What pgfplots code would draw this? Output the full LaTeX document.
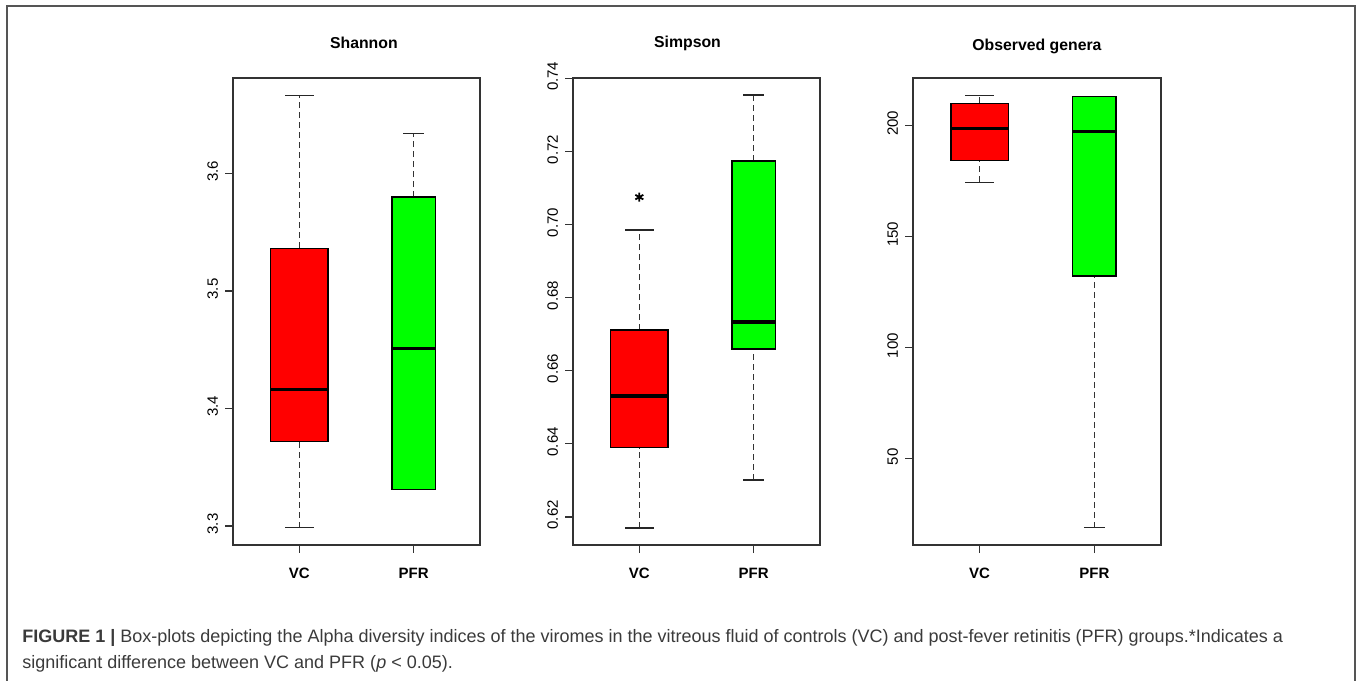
\documentclass[border=0pt]{standalone}
\usepackage{fontspec}
\setmainfont{Liberation Sans}
\usepackage{pgfplots}
\pgfplotsset{compat=1.18}
\definecolor{rred}{HTML}{FF0000}
\definecolor{rgreen}{HTML}{00FF00}
\definecolor{axgray}{HTML}{333333}
\definecolor{framegray}{HTML}{555555}
\definecolor{capgray}{HTML}{3A3A3A}

\pgfplotsset{
  rbox/.style={
    scale only axis, width=123.5pt, height=233.5pt,
    anchor=south west,
    xmin=0.42, xmax=2.58,
    xtick={1,2}, xticklabels={VC,PFR},
    axis line style={axgray, line width=0.65pt},
    tick style={axgray, line width=0.65pt},
    tick align=outside, major tick length=4pt,
    xtick pos=bottom, ytick pos=left,
    ticklabel style={font=\fontsize{7.5}{9}\selectfont, text=black},
    xticklabel style={font=\fontsize{7.5}{9}\selectfont\bfseries, yshift=-4pt},
    yticklabel style={rotate=90, anchor=south, xshift=1pt},
    title style={font=\fontsize{7.9}{9}\selectfont\bfseries, at={(0.5,1)}, anchor=center, yshift=11.5pt},
  },
  boxfill/.style={draw=black, line width=0.65pt},
  whisk/.style={black!80, line width=0.65pt, dash pattern=on 3pt off 2pt},
  capl/.style={black!85, line width=0.7pt},
  medl/.style={black, line width=1.7pt},
}

\begin{document}
\begin{tikzpicture}
\useasboundingbox (0,0) rectangle (678.5pt,340.5pt);
\draw[framegray, line width=0.8pt] (3.5pt,-1pt) -- (3.5pt,337.5pt) -- (677.5pt,337.5pt) -- (677.5pt,-1pt);

% ---------------- Shannon
\begin{axis}[rbox, at={(116.5pt,68pt)}, title={Shannon}, title style={xshift=3.7pt},
  ymin=3.2839, ymax=3.6813, ytick={3.3,3.4,3.5,3.6}, yticklabels={3.3,3.4,3.5,3.6}]
% VC: lw 3.2986, lq 3.3717, med 3.4163, uq 3.5365, uw 3.6666
\addplot[whisk] coordinates {(1,3.2986) (1,3.3717)};
\addplot[whisk] coordinates {(1,3.5365) (1,3.6666)};
\addplot[capl] coordinates {(0.875,3.2986) (1.125,3.2986)};
\addplot[capl] coordinates {(0.875,3.6666) (1.125,3.6666)};
\addplot[boxfill, fill=rred] coordinates {(0.75,3.3717) (1.25,3.3717) (1.25,3.5365) (0.75,3.5365)} -- cycle;
\addplot[medl] coordinates {(0.75,3.4163) (1.25,3.4163)};
% PFR: lw 3.3312, lq 3.3312, med 3.4512, uq 3.580, uw 3.634
\addplot[whisk] coordinates {(2,3.580) (2,3.634)};
\addplot[capl] coordinates {(1.9075,3.634) (2.0925,3.634)};
\addplot[boxfill, fill=rgreen] coordinates {(1.8115,3.3312) (2.1885,3.3312) (2.1885,3.580) (1.8115,3.580)} -- cycle;
\addplot[medl] coordinates {(1.8115,3.4512) (2.1885,3.4512)};
\end{axis}

% ---------------- Simpson
\begin{axis}[rbox, at={(286.5pt,68pt)}, title={Simpson}, title style={xshift=-4.5pt},
  ymin=0.6123, ymax=0.7401, ytick={0.62,0.64,0.66,0.68,0.70,0.72,0.74},
  yticklabels={0.62,0.64,0.66,0.68,0.70,0.72,0.74}]
% VC: lw 0.617, lq 0.6389, med 0.6531, uq 0.6711, uw 0.6985
\addplot[whisk] coordinates {(1,0.617) (1,0.6389)};
\addplot[whisk] coordinates {(1,0.6711) (1,0.6985)};
\addplot[capl] coordinates {(0.875,0.617) (1.125,0.617)};
\addplot[capl] coordinates {(0.875,0.6985) (1.125,0.6985)};
\addplot[boxfill, fill=rred] coordinates {(0.75,0.6389) (1.25,0.6389) (1.25,0.6711) (0.75,0.6711)} -- cycle;
\addplot[medl] coordinates {(0.75,0.6531) (1.25,0.6531)};
% outlier / significance mark
\addplot[only marks, mark=asterisk, mark size=2.3pt, mark options={line width=0.9pt, black}] coordinates {(1,0.7075)};
% PFR: lw 0.6301, lq 0.6659, med 0.6733, uq 0.7174, uw 0.7354
\addplot[whisk] coordinates {(2,0.6301) (2,0.6659)};
\addplot[whisk] coordinates {(2,0.7174) (2,0.7354)};
\addplot[capl] coordinates {(1.9075,0.6301) (2.0925,0.6301)};
\addplot[capl] coordinates {(1.9075,0.7354) (2.0925,0.7354)};
\addplot[boxfill, fill=rgreen] coordinates {(1.8115,0.6659) (2.1885,0.6659) (2.1885,0.7174) (1.8115,0.7174)} -- cycle;
\addplot[medl] coordinates {(1.8115,0.6733) (2.1885,0.6733)};
\end{axis}

% ---------------- Observed genera
\begin{axis}[rbox, at={(456.5pt,68pt)}, width=124pt, title={Observed genera}, title style={yshift=-1.8pt},
  ymin=11.2, ymax=221.3, ytick={50,100,150,200}, yticklabels={50,100,150,200}]
% VC: lw 174.4, lq 184.3, med 198.7, uq 209.9, uw 213.5
\addplot[whisk] coordinates {(1,174.4) (1,184.3)};
\addplot[whisk] coordinates {(1,209.9) (1,213.5)};
\addplot[capl] coordinates {(0.875,174.4) (1.125,174.4)};
\addplot[capl] coordinates {(0.875,213.5) (1.125,213.5)};
\addplot[boxfill, fill=rred] coordinates {(0.75,184.3) (1.25,184.3) (1.25,209.9) (0.75,209.9)} -- cycle;
\addplot[medl] coordinates {(0.75,198.7) (1.25,198.7)};
% PFR: lw 19, lq 132.2, med 197.3, uq 213, uw 213
\addplot[whisk] coordinates {(2,19) (2,132.2)};
\addplot[capl] coordinates {(1.9075,19) (2.0925,19)};
\addplot[boxfill, fill=rgreen] coordinates {(1.8115,132.2) (2.1885,132.2) (2.1885,213) (1.8115,213)} -- cycle;
\addplot[medl] coordinates {(1.8115,197.3) (2.1885,197.3)};
\end{axis}

% caption
\node[anchor=base west, inner sep=0pt, text=capgray, font=\fontsize{9}{11}\selectfont] at (11pt,19pt)
  {\textbf{FIGURE 1 |} Box-plots depicting the Alpha diversity indices of the viromes in the vitreous fluid of controls (VC) and post-fever retinitis (PFR) groups.*Indicates a};
\node[anchor=base west, inner sep=0pt, text=capgray, font=\fontsize{9}{11}\selectfont] at (11pt,6pt)
  {significant difference between VC and PFR (\textit{p} < 0.05).};
\end{tikzpicture}
\end{document}
